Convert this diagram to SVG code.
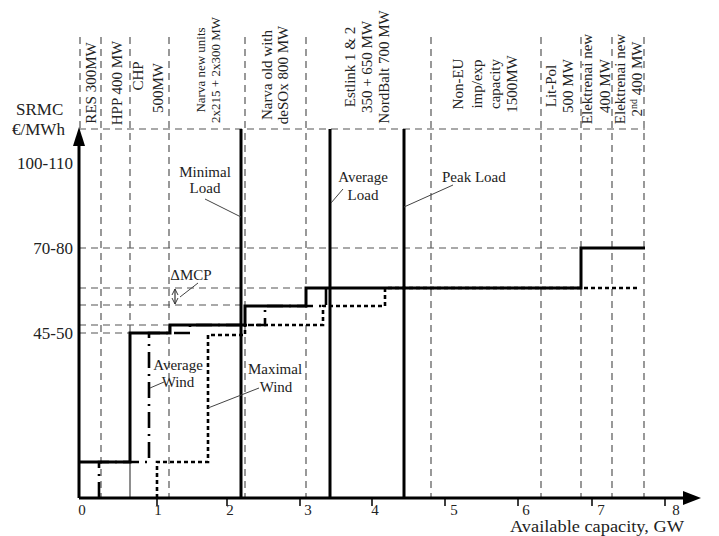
<svg xmlns="http://www.w3.org/2000/svg" width="719" height="536" viewBox="0 0 719 536">
<style>
text{font-family:"Liberation Serif","Times New Roman",serif;fill:#222;}
.t15{font-size:15px;}
.t13{font-size:13px;}
.mid{text-anchor:middle;}
.grid{stroke:#555;stroke-width:1.2;stroke-dasharray:7,5;fill:none;}
.thick{stroke:#000;stroke-width:3;fill:none;}
.thin{stroke:#444;stroke-width:1.2;fill:none;}
.lead{stroke:#444;stroke-width:1;fill:none;}
</style>
<defs>
<marker id="ah" viewBox="0 0 10 10" refX="10" refY="5" markerUnits="userSpaceOnUse" markerWidth="6" markerHeight="8" orient="auto-start-reverse"><path d="M0,0 L10,5 L0,10" fill="none" stroke="#333" stroke-width="1.6"/></marker>
</defs>
<rect width="719" height="536" fill="#fff"/>
<g id="grid">
<path class="grid" d="M80,37V129 M101,37V498 M130,37V333 M169,37V498 M245,37V498 M306,37V498 M431,37V498 M541,37V498 M581,37V498 M612,37V498 M644,37V498"/>
<path class="thin" d="M130,462V498"/>
<path class="grid" d="M79,129H645 M79,248H581 M79,288H306 M79,305H245 M79,325H170 M79,333H130"/>
</g>
<g id="axes">
<path d="M79,498V142 M79,498H686" stroke="#000" stroke-width="3" fill="none"/>
<path d="M79,127 L73,146 L85,146 Z" fill="#000"/>
<path d="M701,498 L683,491 L683,505 Z" fill="#000"/>
<path d="M157,499V506 M227,499V506 M300,499V506 M372,499V506 M445,499V506 M518,499V506 M592,499V506 M665,499V506" stroke="#000" stroke-width="1.5"/>
<g class="t15">
<text x="82" y="515" class="mid">0</text>
<text x="158" y="515" class="mid">1</text>
<text x="230" y="515" class="mid">2</text>
<text x="308" y="515" class="mid">3</text>
<text x="375" y="515" class="mid">4</text>
<text x="454" y="515" class="mid">5</text>
<text x="526" y="515" class="mid">6</text>
<text x="601" y="515" class="mid">7</text>
<text x="676" y="515" class="mid">8</text>
</g>
<text x="510" y="532" style="font-size:16px" textLength="174" lengthAdjust="spacingAndGlyphs">Available capacity, GW</text>
<text x="16" y="115" style="font-size:17px">SRMC</text>
<text x="12" y="135" style="font-size:17px">€/MWh</text>
<text x="73" y="169" style="font-size:17px;text-anchor:end">100-110</text>
<text x="73" y="254" style="font-size:17px;text-anchor:end">70-80</text>
<text x="73" y="339" style="font-size:17px;text-anchor:end">45-50</text>
</g>
<g id="labels" class="t15">
<text class="mid" transform="translate(96,83) rotate(-90)">RES 300MW</text>
<text class="mid" transform="translate(122,83) rotate(-90)">HPP 400 MW</text>
<text class="mid" transform="translate(143,76) rotate(-90)">CHP</text>
<text class="mid" transform="translate(163,88) rotate(-90)">500MW</text>
<text class="mid t13" transform="translate(204.5,70) rotate(-90)">Narva new units</text>
<text class="mid t13" transform="translate(219.5,70) rotate(-90)">2x215 + 2x300 MW</text>
<text class="mid" transform="translate(272,75) rotate(-90)">Narva old with</text>
<text class="mid" transform="translate(288,75) rotate(-90)">deSOx 800 MW</text>
<text class="mid" transform="translate(355,67) rotate(-90)">Estlink 1 &amp; 2</text>
<text class="mid" transform="translate(372,67) rotate(-90)">350 + 650 MW</text>
<text class="mid" transform="translate(389,67) rotate(-90)">NordBalt 700 MW</text>
<text class="mid" transform="translate(463,84) rotate(-90)">Non-EU</text>
<text class="mid" transform="translate(482,84) rotate(-90)">imp/exp</text>
<text class="mid" transform="translate(500,84) rotate(-90)">capacity</text>
<text class="mid" transform="translate(517,84) rotate(-90)">1500MW</text>
<text class="mid" transform="translate(556,86) rotate(-90)">Lit-Pol</text>
<text class="mid" transform="translate(573,86) rotate(-90)">500 MW</text>
<text class="mid" transform="translate(592,79) rotate(-90)">Elektrenai new</text>
<text class="mid" transform="translate(610,86) rotate(-90)">400 MW</text>
<text class="mid" transform="translate(625,79) rotate(-90)">Elektrenai new</text>
<text class="mid" transform="translate(642,79) rotate(-90)">2<tspan dy="-5" style="font-size:10px">nd</tspan><tspan dy="5"> 400 MW</tspan></text>
</g>
<g id="connectors">
<path class="thick" d="M241,129V498 M330,129V498 M404,129V498"/>
<path class="thick" d="M79,462H130V333H170V325H245V306H306V288H581V248H645"/>
<path d="M99,498V462H149V333H190V325H265V306H326V288" stroke="#000" stroke-width="2.6" fill="none" stroke-dasharray="16,6,2,6"/>
<path d="M157,498V462H208V335H245V325H323V306H385V288H640" stroke="#000" stroke-width="2.6" fill="none" stroke-dasharray="4,3"/>
<path d="M175,289V304" stroke="#333" stroke-width="1.2" marker-start="url(#ah)" marker-end="url(#ah)"/>
<path class="lead" d="M180,297L198,283"/>
<path class="lead" d="M205,199L241,217"/>
<path class="lead" d="M343,189L331,203"/>
<path class="lead" d="M453,185L404,207"/>
<path class="lead" d="M150,388L164,382"/>
<path class="lead" d="M208,408L259,388"/>
</g>
<g id="annotations" class="t15">
<text x="191" y="280" class="mid">ΔMCP</text>
<text x="205" y="177" class="mid">Minimal</text>
<text x="205" y="193" class="mid">Load</text>
<text x="363" y="182" class="mid">Average</text>
<text x="363" y="200" class="mid">Load</text>
<text x="442" y="182">Peak Load</text>
<text x="178" y="370" class="mid">Average</text>
<text x="178" y="387" class="mid">Wind</text>
<text x="275" y="374" class="mid">Maximal</text>
<text x="276" y="392" class="mid">Wind</text>
</g>
</svg>
